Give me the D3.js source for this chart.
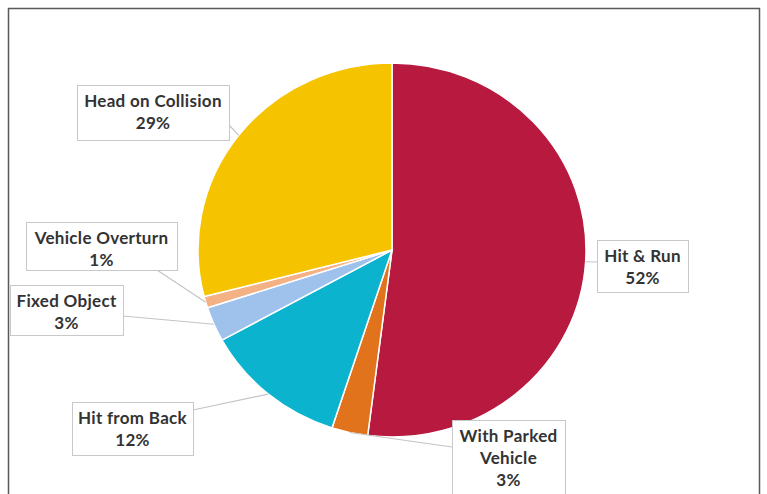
<!DOCTYPE html>
<html>
<head>
<meta charset="utf-8">
<script src="https://cdn.jsdelivr.net/npm/d3@7"></script>
<style>
  html, body { margin: 0; padding: 0; background: #fff; }
  svg { display: block; }
</style>
</head>
<body>
<svg id="chart" width="767" height="494"></svg>
<script>
// ---- data ----
const categories = ["Hit & Run", "With Parked Vehicle", "Hit from Back", "Fixed Object", "Vehicle Overturn", "Head on Collision"];
const values = [52, 3, 12, 3, 1, 29];
const colors = ["#B7193F", "#E2731D", "#0BB3CF", "#9EC2EC", "#F4B183", "#F6C300"];
const labelLines = [["Hit & Run"], ["With Parked", "Vehicle"], ["Hit from Back"], ["Fixed Object"], ["Vehicle Overturn"], ["Head on Collision"]];

// ---- layout (label boxes: x, y, w, h, leader anchor ax, ay) ----
const labelLayout = {
  "Hit & Run":            {x: 597, y: 240, w: 91,  h: 52, ax: 597, ay: 262},
  "With Parked Vehicle":  {x: 452, y: 420, w: 113, h: 80, ax: 452, ay: 447},
  "Hit from Back":        {x: 72,  y: 402, w: 121, h: 53, ax: 193, ay: 410},
  "Fixed Object":         {x: 10,  y: 285, w: 113, h: 50, ax: 123, ay: 316},
  "Vehicle Overturn":     {x: 26,  y: 222, w: 151, h: 48, ax: 157, ay: 270},
  "Head on Collision":    {x: 77,  y: 85,  w: 152, h: 55, ax: 229, ay: 125}
};

const W = 767, H = 494;
const cx = 392, cy = 250, ry = 187, rx = 194;

const svg = d3.select("#chart");

// chart frame
svg.append("rect")
  .attr("x", 8.5).attr("y", 8.5)
  .attr("width", 751).attr("height", 500)
  .attr("fill", "#fff")
  .attr("stroke", "#5a5a5a").attr("stroke-width", 1.5);

const data = categories.map((c, i) => ({cat: c, value: values[i], color: colors[i], lines: labelLines[i]}));

const pie = d3.pie().sort(null).value(d => d.value);
const arcs = pie(data);
const arc = d3.arc().innerRadius(0).outerRadius(ry);

const g = svg.append("g")
  .attr("transform", `translate(${cx},${cy}) scale(${rx / ry},1)`);

g.selectAll("path.slice")
  .data(arcs)
  .join("path")
  .attr("class", "slice")
  .attr("d", arc)
  .attr("fill", d => d.data.color)
  .attr("stroke", "#fff")
  .attr("stroke-width", 1.5)
  .attr("vector-effect", "non-scaling-stroke");

// leader lines: from label anchor to the ellipse edge at slice mid-angle
const edgePoint = d => {
  const a = (d.startAngle + d.endAngle) / 2;
  return [cx + rx * Math.sin(a), cy - ry * Math.cos(a)];
};

svg.selectAll("line.leader")
  .data(arcs)
  .join("line")
  .attr("class", "leader")
  .attr("x1", d => labelLayout[d.data.cat].ax)
  .attr("y1", d => labelLayout[d.data.cat].ay)
  .attr("x2", d => edgePoint(d)[0])
  .attr("y2", d => edgePoint(d)[1])
  .attr("stroke", "#c4c4c4")
  .attr("stroke-width", 1.2);

// label boxes
const lbl = svg.selectAll("g.lbl")
  .data(arcs)
  .join("g")
  .attr("class", "lbl");

lbl.append("rect")
  .attr("x", d => labelLayout[d.data.cat].x + 0.5)
  .attr("y", d => labelLayout[d.data.cat].y + 0.5)
  .attr("width", d => labelLayout[d.data.cat].w)
  .attr("height", d => labelLayout[d.data.cat].h)
  .attr("fill", "#fff")
  .attr("stroke", "#c8c8c8")
  .attr("stroke-width", 1);

const lineGap = 22;
lbl.each(function(d) {
  const L = labelLayout[d.data.cat];
  const lines = d.data.lines.concat([d3.format(".0%")(d.data.value / d3.sum(values))]);
  const t = d3.select(this).append("text")
    .attr("text-anchor", "middle")
    .attr("font-family", "Lato, 'Open Sans', sans-serif")
    .attr("font-weight", 700)
    .attr("font-size", 17)
    .attr("letter-spacing", 0.3)
    .attr("fill", "#333");
  lines.forEach((s, i) => {
    t.append("tspan")
      .attr("x", L.x + L.w / 2)
      .attr("y", L.y + 22 + i * lineGap)
      .text(s);
  });
});
</script>
</body>
</html>
